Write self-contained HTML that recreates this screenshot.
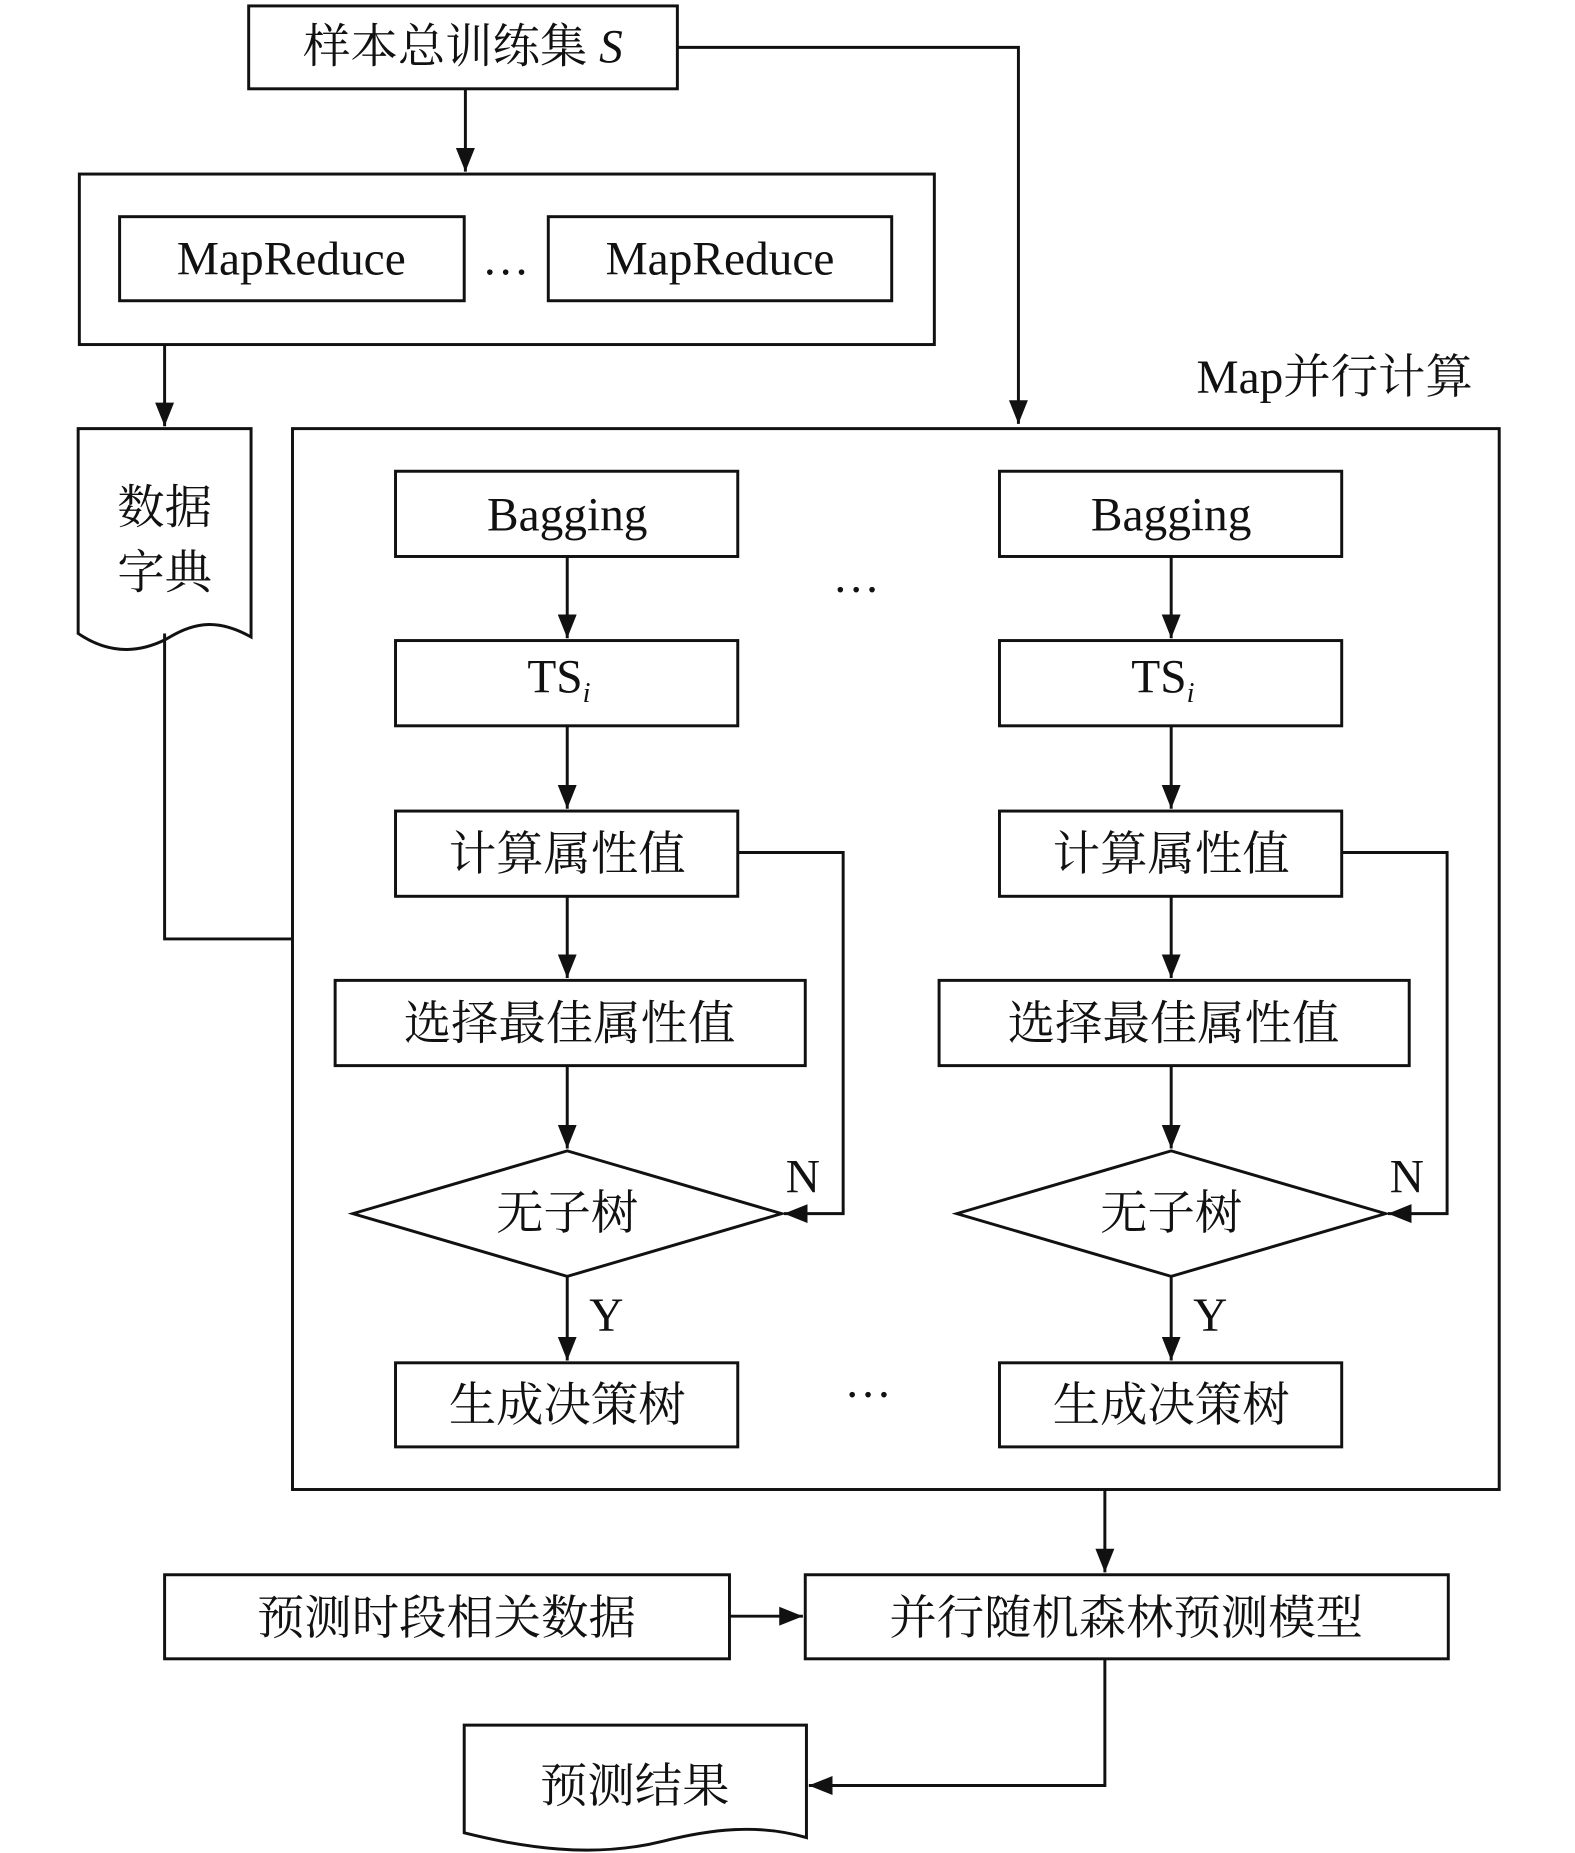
<!DOCTYPE html>
<html><head><meta charset="utf-8"><style>
html,body{margin:0;padding:0;background:#fff}
svg{display:block}
text{font-family:"Liberation Serif","Noto Serif CJK SC",serif;fill:#111}
</style></head><body>
<svg width="1575" height="1853" viewBox="0 0 1330 1565" preserveAspectRatio="none" xmlns="http://www.w3.org/2000/svg">
<defs><marker id="a" markerWidth="12" markerHeight="12" refX="11" refY="6" orient="auto" markerUnits="userSpaceOnUse"><path d="M0,0 L12,6 L0,12 z" fill="#111"/></marker>
<marker id="b" viewBox="0 0 20 16" markerWidth="20" markerHeight="16" refX="20" refY="8" orient="auto" markerUnits="userSpaceOnUse"><path d="M0,0 L20,8 L0,16 z" fill="#111"/></marker></defs>
<g fill="none" stroke="#111" stroke-width="2.5">
<rect x="210" y="5" width="362" height="70"/>
<rect x="67" y="147" width="722" height="144"/>
<rect x="101" y="183" width="291" height="71"/>
<rect x="463" y="183" width="290" height="71"/>
<rect x="247" y="362" width="1019" height="896"/>
<path d="M66,362 H212 V538 C180,520 160,528 140,540 C110,555 85,548 66,535 Z"/>
<path d="M392,1457 H681 V1552 C640,1540 600,1545 560,1555 C500,1570 440,1560 392,1548 Z"/>
<path d="M139,535 V793 H247"/>
<path d="M572,40 H860 V358" marker-end="url(#b)"/>
<path d="M393,75 V145" marker-end="url(#b)"/>
<path d="M139,291 V360" marker-end="url(#b)"/>
<g id="col">
<rect x="334" y="398" width="289" height="72"/>
<rect x="334" y="541" width="289" height="72"/>
<rect x="334" y="685" width="289" height="72"/>
<rect x="283" y="828" width="397" height="72"/>
<path d="M298,1025 L479,972 L660,1025 L479,1078 Z"/>
<rect x="334" y="1151" width="289" height="71"/>
<path d="M479,470 V539" marker-end="url(#b)"/>
<path d="M479,613 V683" marker-end="url(#b)"/>
<path d="M479,757 V826" marker-end="url(#b)"/>
<path d="M479,900 V970" marker-end="url(#b)"/>
<path d="M479,1078 V1149" marker-end="url(#b)"/>
<path d="M623,720 H712 V1025 H662" marker-end="url(#b)"/>
</g>
<use href="#col" transform="translate(510,0)"/>
<path d="M933,1258 V1328" marker-end="url(#b)"/>
<rect x="139" y="1330" width="477" height="71"/>
<rect x="680" y="1330" width="543" height="71"/>
<path d="M616,1365 H678" marker-end="url(#b)"/>
<path d="M933,1401 V1508 H683" marker-end="url(#b)"/>
</g>
<g font-size="40" text-anchor="middle">
<text x="391" y="53">样本总训练集 <tspan font-style="italic">S</tspan></text>
<text x="246" y="232">MapReduce</text>
<text x="608" y="232">MapReduce</text>
<text x="427" y="232">…</text>
<text x="1127" y="332">Map并行计算</text>
<text x="139" y="442">数据</text>
<text x="139" y="497">字典</text>
<text x="723" y="500">…</text>
<text x="733" y="1180">…</text>
<text x="377" y="1380">预测时段相关数据</text>
<text x="951" y="1380">并行随机森林预测模型</text>
<text x="536" y="1522">预测结果</text>
<g id="t">
<text x="479" y="448">Bagging</text>
<text x="472" y="585">TS<tspan font-size="24" font-style="italic" dy="8">i</tspan></text>
<text x="479" y="735">计算属性值</text>
<text x="481" y="878">选择最佳属性值</text>
<text x="479" y="1038">无子树</text>
<text x="479" y="1200">生成决策树</text>
<text x="678" y="1007">N</text>
<text x="512" y="1124">Y</text>
</g>
<use href="#t" transform="translate(510,0)"/>
</g>
</svg>
</body></html>
